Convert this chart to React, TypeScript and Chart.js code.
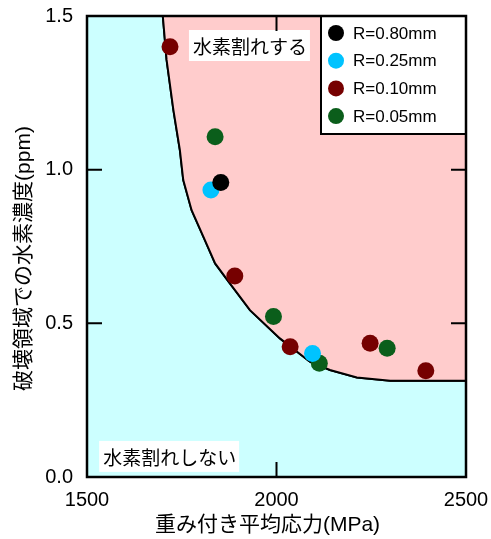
import React, { useEffect, useRef } from 'react';
import { Chart, registerables } from 'chart.js';
Chart.register(...registerables);

// ---- data ----
const seriesLabels = ['R=0.80mm', 'R=0.25mm', 'R=0.10mm', 'R=0.05mm'];
const seriesColors = ['#000000', '#00c3ff', '#760000', '#0b5e1b'];

const r080X = [1853];
const r080Y = [0.958];
const r025X = [1827, 2095];
const r025Y = [0.934, 0.402];
const r010X = [1719, 1890, 2036, 2247, 2394];
const r010Y = [1.4, 0.654, 0.424, 0.435, 0.346];
const r005X = [1838, 1992, 2113, 2292];
const r005Y = [1.107, 0.522, 0.37, 0.419];

const boundaryX = [1500, 1700, 1710, 1728, 1745, 1754, 1776, 1811, 1838, 1877, 1930, 2009, 2088, 2141, 2212, 2300, 2500];
const boundaryY = [1.5, 1.5, 1.357, 1.194, 1.064, 0.966, 0.868, 0.771, 0.695, 0.63, 0.543, 0.451, 0.375, 0.348, 0.324, 0.313, 0.313];

const xTicks = [1500, 2000, 2500];
const yTicks = [0, 0.5, 1.0, 1.5];

const xTitle = '重み付き平均応力(MPa)';
const yTitle = '破壊領域での水素濃度(ppm)';
const crackLabel = '水素割れする';
const noCrackLabel = '水素割れしない';

// annotation anchors (data units)
const crackAnchor = { x: 1769, y: 1.404 };
const noCrackAnchor = { x: 1532, y: 0.067 };

const FONT = '"Liberation Sans", Arial, "Noto Sans CJK JP", sans-serif';
const CJK = '"Noto Sans CJK JP", sans-serif';

const zip = (xs: number[], ys: number[]) => xs.map((x, i) => ({ x, y: ys[i] }));

const decorPlugin = {
  id: 'decor',
  afterDraw(chart: any) {
    const { ctx, chartArea: a, scales } = chart;
    const xs = scales.x;
    const ys = scales.y;
    ctx.save();
    // label boxes
    const drawLabel = (text: string, anchor: { x: number; y: number }) => {
      ctx.font = '19px ' + CJK;
      const w = ctx.measureText(text).width;
      const px = xs.getPixelForValue(anchor.x);
      const py = ys.getPixelForValue(anchor.y);
      ctx.fillStyle = '#ffffff';
      ctx.fillRect(px, py - 15.5, w + 7, 31);
      ctx.fillStyle = '#000000';
      ctx.textBaseline = 'middle';
      ctx.textAlign = 'left';
      ctx.fillText(text, px + 4, py + 1);
    };
    drawLabel(crackLabel, crackAnchor);
    drawLabel(noCrackLabel, noCrackAnchor);

    // legend
    const lw = 145;
    const lh = 118;
    const lx = a.right - lw;
    const ly = a.top;
    ctx.fillStyle = '#ffffff';
    ctx.fillRect(lx, ly, lw, lh);
    ctx.strokeStyle = '#000000';
    ctx.lineWidth = 2;
    ctx.strokeRect(lx, ly, lw, lh);
    ctx.font = '17px ' + FONT;
    ctx.textBaseline = 'middle';
    ctx.textAlign = 'left';
    chart.data.datasets.forEach((ds: any, i: number) => {
      if (!ds.inLegend) return;
      const cy = ly + 17 + i * 27.7;
      ctx.beginPath();
      ctx.fillStyle = ds.backgroundColor;
      ctx.arc(lx + 15, cy, 8, 0, Math.PI * 2);
      ctx.fill();
      ctx.fillStyle = '#000000';
      ctx.fillText(ds.label, lx + 32, cy + 1);
    });

    // inward ticks
    ctx.strokeStyle = '#000000';
    ctx.lineWidth = 2;
    const tl = 15;
    xs.ticks.forEach((t: any) => {
      const px = xs.getPixelForValue(t.value);
      ctx.beginPath();
      ctx.moveTo(px, a.bottom);
      ctx.lineTo(px, a.bottom - tl);
      ctx.moveTo(px, a.top);
      ctx.lineTo(px, a.top + tl);
      ctx.stroke();
    });
    ys.ticks.forEach((t: any) => {
      const py = ys.getPixelForValue(t.value);
      ctx.beginPath();
      ctx.moveTo(a.left, py);
      ctx.lineTo(a.left + tl, py);
      ctx.moveTo(a.right, py);
      ctx.lineTo(a.right - tl, py);
      ctx.stroke();
    });
    // frame
    ctx.lineWidth = 2.5;
    ctx.strokeRect(a.left, a.top, a.right - a.left, a.bottom - a.top);

    // axis titles
    ctx.fillStyle = '#000000';
    ctx.font = '21px ' + FONT;
    ctx.textAlign = 'center';
    ctx.textBaseline = 'middle';
    ctx.fillText(xTitle, (a.left + a.right) / 2 - 9, a.bottom + 48);
    ctx.translate(a.left - 63, (a.top + a.bottom) / 2 + 12);
    ctx.rotate(-Math.PI / 2);
    ctx.fillText(yTitle, 0, 0);
    ctx.restore();
  },
};

export default function App() {
  const ref = useRef<HTMLCanvasElement | null>(null);
  useEffect(() => {
    if (!ref.current) return;
    const pointSets = [zip(r080X, r080Y), zip(r025X, r025Y), zip(r010X, r010Y), zip(r005X, r005Y)];
    const boundary = zip(boundaryX, boundaryY);
    const chart = new Chart(ref.current, {
      type: 'scatter',
      data: {
        datasets: [
          ...pointSets.map((d, i) => ({
            label: seriesLabels[i],
            data: d,
            backgroundColor: seriesColors[i],
            borderColor: seriesColors[i],
            borderWidth: 0,
            pointRadius: 8.5,
            order: i,
            inLegend: true,
          })),
          {
            type: 'line',
            label: 'boundary',
            data: boundary,
            borderColor: '#000000',
            borderWidth: 2,
            pointRadius: 0,
            fill: 'start',
            backgroundColor: '#ccffff',
            tension: 0,
            order: 20,
          },
          {
            type: 'line',
            label: 'boundary2',
            data: boundary,
            borderColor: '#000000',
            borderWidth: 2,
            pointRadius: 0,
            fill: 'end',
            backgroundColor: '#ffcccc',
            tension: 0,
            order: 10,
          },
        ] as any,
      },
      options: {
        animation: false,
        responsive: true,
        maintainAspectRatio: false,
        layout: { padding: { left: 0, right: 25, top: 16, bottom: 0 } },
        plugins: { legend: { display: false }, tooltip: { enabled: false } },
        scales: {
          x: {
            type: 'linear',
            min: 1500,
            max: 2500,
            afterBuildTicks: (s: any) => {
              s.ticks = xTicks.map((v) => ({ value: v }));
            },
            afterFit: (s: any) => {
              s.height = 62;
              s.paddingLeft = 0;
              s.paddingRight = 0;
              s.paddingTop = 0;
              s.paddingBottom = 0;
            },
            grid: { display: false, drawTicks: false, tickLength: 0 },
            border: { display: false },
            ticks: {
              color: '#000',
              padding: 11,
              maxRotation: 0,
              font: { size: 20, family: FONT },
              callback: (v: any) => String(v),
            },
            title: { display: false, text: xTitle },
          },
          y: {
            type: 'linear',
            min: 0,
            max: 1.5,
            afterBuildTicks: (s: any) => {
              s.ticks = yTicks.map((v) => ({ value: v }));
            },
            afterFit: (s: any) => {
              s.width = 87;
              s.paddingLeft = 0;
              s.paddingRight = 0;
              s.paddingTop = 0;
              s.paddingBottom = 0;
            },
            grid: { display: false, drawTicks: false, tickLength: 0 },
            border: { display: false },
            ticks: {
              color: '#000',
              padding: 14,
              font: { size: 20, family: FONT },
              callback: (v: any) => Number(v).toFixed(1),
            },
            title: { display: false, text: yTitle },
          },
        },
      } as any,
      plugins: [decorPlugin],
    });
    return () => chart.destroy();
  }, []);
  return (
    <div style={{ position: 'absolute', left: 0, top: 0, width: 491, height: 539, background: '#fff' }}>
      <canvas ref={ref} />
    </div>
  );
}
